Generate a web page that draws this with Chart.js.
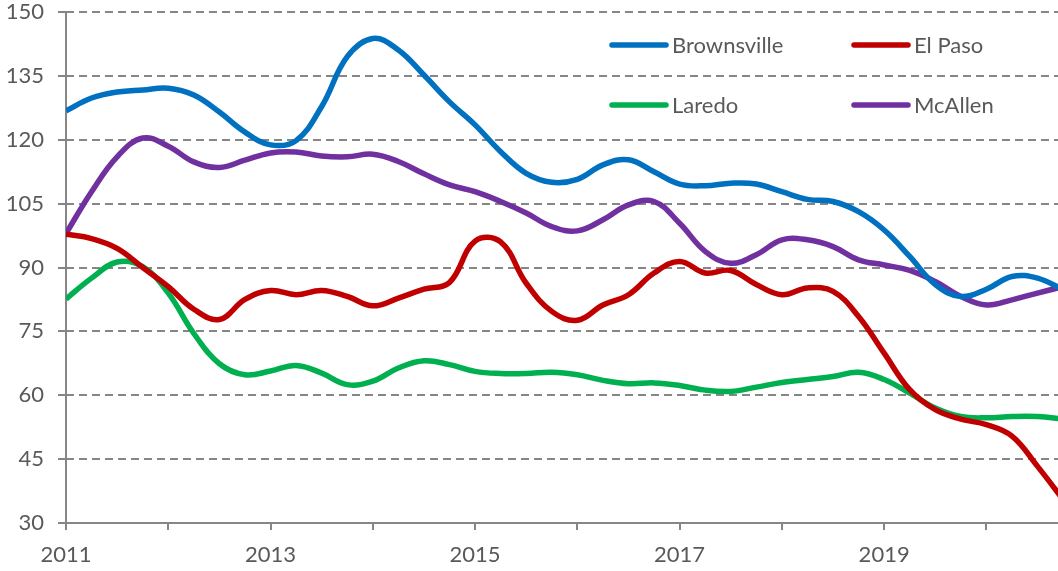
<!DOCTYPE html>
<html>
<head>
<meta charset="utf-8">
<script src="https://cdn.jsdelivr.net/npm/chart.js@4.4.1/dist/chart.umd.min.js"></script>
<style>
  html, body { margin: 0; padding: 0; background: #fff; overflow: hidden; }
  #wrap { position: relative; width: 1058px; height: 571px; }
</style>
</head>
<body>
<div id="wrap"><canvas id="chart"></canvas></div>
<script>
// Quarterly points, 2011 Q1 through late 2020
const quarters = [
  2011, 2011.25, 2011.5, 2011.75, 2012, 2012.25, 2012.5, 2012.75,
  2013, 2013.25, 2013.5, 2013.75, 2014, 2014.25, 2014.5, 2014.75,
  2015, 2015.25, 2015.5, 2015.75, 2016, 2016.25, 2016.5, 2016.75,
  2017, 2017.25, 2017.5, 2017.75, 2018, 2018.25, 2018.5, 2018.75,
  2019, 2019.25, 2019.5, 2019.75, 2020, 2020.25, 2020.5, 2020.75
];

const brownsville = [
  126.8, 129.8, 131.2, 131.7, 132.1, 130.5, 126.5, 121.8,
  118.8, 119.8, 127.8, 139.5, 143.8, 141.1, 135.2, 128.9,
  123.5, 117.2, 112.1, 110.0, 110.7, 114.1, 115.3, 112.5,
  109.6, 109.2, 109.8, 109.6, 107.8, 106.0, 105.5, 103.1,
  98.8, 92.6, 86.0, 83.2, 84.9, 87.9, 87.5, 84.8
];

const elPaso = [
  97.8, 96.8, 94.5, 90.0, 85.5, 80.2, 77.8, 82.5,
  84.6, 83.6, 84.6, 83.2, 81.0, 82.8, 84.9, 86.5,
  96.2, 96.0, 86.3, 79.7, 77.6, 81.2, 83.6, 88.7,
  91.4, 88.7, 89.3, 86.0, 83.6, 85.2, 84.4, 78.5,
  69.9, 61.3, 56.6, 54.4, 53.1, 50.4, 43.3, 35.5
];

const laredo = [
  82.6, 87.5, 91.3, 90.2, 84.0, 74.5, 67.4, 64.8,
  65.7, 67.0, 65.2, 62.5, 63.3, 66.4, 68.1, 67.2,
  65.6, 65.1, 65.1, 65.4, 64.8, 63.5, 62.7, 62.9,
  62.3, 61.2, 60.9, 61.9, 63.0, 63.7, 64.4, 65.4,
  63.7, 60.5, 57.0, 55.0, 54.7, 55.0, 55.0, 54.4
];

const mcAllen = [
  98.0, 107.8, 116.0, 120.4, 118.5, 114.8, 113.5, 115.2,
  116.9, 117.1, 116.2, 116.0, 116.6, 114.9, 112.0, 109.4,
  107.8, 105.5, 102.8, 99.6, 98.6, 101.2, 104.7, 105.5,
  100.4, 93.8, 91.0, 93.0, 96.5, 96.5, 94.9, 91.8,
  90.6, 89.3, 86.7, 83.2, 81.2, 82.4, 84.0, 85.5
];

const seriesNames = ['Brownsville', 'El Paso', 'Laredo', 'McAllen'];
const seriesColors = ['#0070C0', '#C00000', '#00B050', '#7030A0'];

const yearTicks = [2011, 2012, 2013, 2014, 2015, 2016, 2017, 2018, 2019, 2020];
const yearLabels = ['2011', '', '2013', '', '2015', '', '2017', '', '2019', ''];

const textColor = '#595959';
const gridColor = '#868686';
const fontFamily = 'Lato, "Open Sans", sans-serif';

function toPoints(values) {
    return values.map((v, i) => ({ x: quarters[i], y: v }));
}

const allSeries = [brownsville, elPaso, laredo, mcAllen];

// Legend in two columns, drawn inside the plot
const legendPlugin = {
    id: 'twoColLegend',
    afterDraw(chart) {
        const ctx = chart.ctx;
        const spots = [
            { x: 612, y: 45 }, { x: 854, y: 45 },
            { x: 612, y: 105 }, { x: 854, y: 105 }
        ];
        ctx.save();
        ctx.font = '22px ' + fontFamily;
        ctx.textBaseline = 'middle';
        ctx.fillStyle = textColor;
        chart.data.datasets.forEach((ds, i) => {
            const s = spots[i];
            ctx.beginPath();
            ctx.lineWidth = 5.5;
            ctx.lineCap = 'round';
            ctx.strokeStyle = ds.borderColor;
            ctx.moveTo(s.x, s.y);
            ctx.lineTo(s.x + 54, s.y);
            ctx.stroke();
            ctx.fillText(ds.label, s.x + 60, s.y + 1);
        });
        ctx.restore();
    }
};

const ctx = document.getElementById('chart').getContext('2d');
new Chart(ctx, {
    type: 'line',
    data: {
        datasets: allSeries.map((vals, i) => ({
            label: seriesNames[i],
            data: toPoints(vals),
            borderColor: seriesColors[i],
            backgroundColor: seriesColors[i],
            borderWidth: 5.5,
            pointRadius: 0,
            tension: 0.4,
            fill: false
        }))
    },
    options: {
        responsive: true,
        maintainAspectRatio: false,
        animation: false,
        layout: { padding: 0 },
        plugins: {
            legend: { display: false },
            tooltip: { enabled: false }
        },
        scales: {
            x: {
                type: 'linear',
                min: 2011,
                max: 2020.7,
                afterBuildTicks: axis => {
                    axis.ticks = yearTicks.map(v => ({ value: v }));
                },
                afterFit: axis => { axis.height = 48; },
                ticks: {
                    color: textColor,
                    font: { family: fontFamily, size: 22 },
                    padding: 12,
                    maxRotation: 0,
                    autoSkip: false,
                    callback: (value) => yearLabels[yearTicks.indexOf(value)] ?? ''
                },
                grid: {
                    // only the first year line shows in the plot: it is the y axis line
                    color: c => (c.index === 0 ? gridColor : 'rgba(0,0,0,0)'),
                    tickColor: gridColor,
                    lineWidth: 2,
                    tickLength: 7
                },
                border: { color: gridColor, width: 2 }
            },
            y: {
                min: 30,
                max: 150,
                afterFit: axis => {
                    axis.width = 66;
                    axis.paddingTop = 12;
                },
                ticks: {
                    stepSize: 15,
                    color: textColor,
                    font: { family: fontFamily, size: 22 },
                    padding: 14
                },
                grid: {
                    color: gridColor,
                    lineWidth: 2,
                    tickLength: 8,
                    tickBorderDash: [],
                    tickWidth: 2
                },
                border: { display: false, dash: [8, 5] }
            }
        }
    },
    plugins: [legendPlugin]
});
</script>
</body>
</html>
